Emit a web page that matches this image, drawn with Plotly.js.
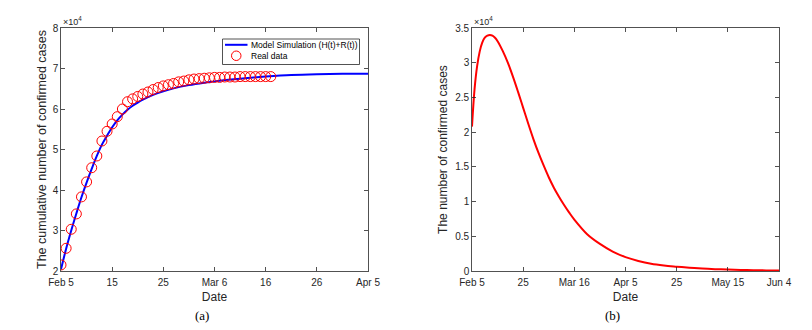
<!DOCTYPE html>
<html>
<head>
<meta charset="utf-8">
<script src="https://cdn.plot.ly/plotly-3.0.1.min.js"></script>
<style>
  html, body { margin: 0; padding: 0; background: #fff; }
  #chart { width: 812px; height: 330px; }
</style>
</head>
<body>
<div id="chart"></div>
<script>
// ---------- Data (values in units of 10^4 cases) ----------
// (a) days since Feb 5, 2020
const realDays = [0,1,2,3,4,5,6,7,8,9,10,11,12,13,14,15,16,17,18,19,20,
                  21,22,23,24,25,26,27,28,29,30,31,32,33,34,35,36,37,38,39,40,41];
const realCases = [2.15,2.56,3.03,3.41,3.83,4.20,4.55,4.84,5.21,5.45,5.63,5.81,6.00,6.18,6.25,6.31,6.37,6.42,6.48,6.53,6.57,
                   6.60,6.63,6.67,6.69,6.72,6.74,6.75,6.76,6.77,6.78,6.78,6.79,6.79,6.79,6.80,6.80,6.80,6.80,6.80,6.80,6.80];
const modelDays = [0,1,2,3,4,5,6,7,8,9,10,11,12,13,14,15,16,18,20,22,25,28,31,35,40,45,50,55,60];
const modelCases = [2.04,2.55,3.00,3.42,3.82,4.18,4.52,4.84,5.12,5.34,5.55,5.72,5.86,5.98,6.08,6.16,6.23,6.35,6.44,6.51,
                    6.59,6.65,6.70,6.75,6.80,6.84,6.86,6.87,6.87];
const tickDaysA = [0,10,20,30,40,50,60];
const tickLabelsA = ['Feb 5','15','25','Mar 6','16','26','Apr 5'];
const legendLabels = ['Model Simulation (H(t)+R(t))', 'Real data'];

// (b) days since Feb 5, 2020
const infDays = [0,1,2,3,4,5,6,7,8,9,10,12,14,16,18,20,22,24,26,28,30,32,34,36,38,40,
                 45,50,55,60,65,70,75,80,85,90,95,100,105,110,115,120];
const infCases = [2.08,2.62,2.95,3.16,3.29,3.36,3.39,3.40,3.39,3.36,3.31,3.17,3.00,2.80,2.58,2.35,2.12,1.90,1.70,1.52,
                  1.35,1.20,1.07,0.95,0.84,0.74,
                  0.53,0.39,0.28,0.20,0.145,0.105,0.08,0.063,0.048,0.036,0.027,0.020,0.015,0.011,0.009,0.007];
const tickDaysB = [0,20,40,60,80,100,120];
const tickLabelsB = ['Feb 5','25','Mar 16','Apr 5','25','May 15','Jun 4'];

// ---------- Styling ----------
const SANS = 'Liberation Sans, Arial, sans-serif';
const SERIF = 'Liberation Serif, Times New Roman, serif';
const AXC = '#262626';
const W = 812, H = 330;
const px = v => v / W;          // pixel -> paper x
const py = v => 1 - v / H;      // pixel -> paper y

function axisBase() {
  return {
    showline: true, linecolor: AXC, linewidth: 0.8, mirror: 'ticks',
    ticks: 'inside', ticklen: 4, tickcolor: AXC, tickwidth: 0.8,
    showgrid: false, zeroline: false,
    tickfont: {family: SANS, size: 10, color: AXC}
  };
}

const traces = [
  {x: modelDays, y: modelCases, type: 'scatter', mode: 'lines',
   line: {color: '#0000ff', width: 2, shape: 'spline', smoothing: 1},
   name: legendLabels[0], showlegend: false, xaxis: 'x', yaxis: 'y'},
  {x: realDays, y: realCases, type: 'scatter', mode: 'markers',
   marker: {symbol: 'circle-open', size: 10, color: '#ff0000', line: {width: 1, color: '#ff0000'}},
   name: legendLabels[1], showlegend: false, xaxis: 'x', yaxis: 'y'},
  {x: infDays, y: infCases, type: 'scatter', mode: 'lines',
   line: {color: '#ff0000', width: 2, shape: 'spline', smoothing: 1},
   showlegend: false, name: 'Confirmed', xaxis: 'x2', yaxis: 'y2'}
];

const xa = Object.assign(axisBase(), {
  domain: [px(61), px(368)], range: [0, 60], tickvals: tickDaysA, ticktext: tickLabelsA,
  anchor: 'y', ticklabelstandoff: 2,
  title: {text: 'Date', font: {family: SANS, size: 12, color: AXC}, standoff: 5}
});
const ya = Object.assign(axisBase(), {
  domain: [py(271), py(28)], range: [2, 8], dtick: 1, anchor: 'x',
  title: {text: 'The cumulative number of confirmed cases', font: {family: SANS, size: 12.5, color: AXC}, standoff: 3}
});
const xb = Object.assign(axisBase(), {
  domain: [px(472), px(779)], range: [0, 120], tickvals: tickDaysB, ticktext: tickLabelsB,
  anchor: 'y2', ticklabelstandoff: 2,
  title: {text: 'Date', font: {family: SANS, size: 12, color: AXC}, standoff: 5}
});
const yb = Object.assign(axisBase(), {
  domain: [py(271), py(28)], range: [0, 3.5], dtick: 0.5, anchor: 'x2',
  title: {text: 'The number of confirmed cases', font: {family: SANS, size: 12, color: AXC}, standoff: 4}
});

// Manual MATLAB-style legend box for panel (a)
const legendShapes = [
  {type: 'rect', xref: 'paper', yref: 'paper', x0: px(222.5), x1: px(359.5), y0: py(64.5), y1: py(39),
   line: {color: AXC, width: 0.8}, fillcolor: '#ffffff', layer: 'above'},
  {type: 'line', xref: 'paper', yref: 'paper', x0: px(225), x1: px(247.5), y0: py(44.8), y1: py(44.8),
   line: {color: '#0000ff', width: 2}, layer: 'above'},
  {type: 'circle', xref: 'paper', yref: 'paper', x0: px(231.5), x1: px(241), y0: py(60.5), y1: py(51),
   line: {color: '#ff0000', width: 1}, fillcolor: 'rgba(0,0,0,0)', layer: 'above'}
];

const layout = {
  width: W, height: H,
  margin: {l: 0, r: 0, t: 0, b: 0},
  paper_bgcolor: '#fff', plot_bgcolor: '#fff',
  font: {family: SANS, color: AXC},
  xaxis: xa, yaxis: ya, xaxis2: xb, yaxis2: yb,
  showlegend: false,
  shapes: legendShapes,
  annotations: [
    {text: legendLabels[0], x: px(249), y: py(44.8), xref: 'paper', yref: 'paper',
     xanchor: 'left', yanchor: 'middle', showarrow: false, font: {family: SANS, size: 8.5, color: '#000'}},
    {text: legendLabels[1], x: px(249), y: py(55.8), xref: 'paper', yref: 'paper',
     xanchor: 'left', yanchor: 'middle', showarrow: false, font: {family: SANS, size: 8.5, color: '#000'}},
    {text: '×10<sup>4</sup>', x: px(61), y: py(21), xref: 'paper', yref: 'paper',
     xanchor: 'left', yanchor: 'middle', showarrow: false, font: {family: SANS, size: 9, color: AXC}},
    {text: '×10<sup>4</sup>', x: px(472), y: py(21), xref: 'paper', yref: 'paper',
     xanchor: 'left', yanchor: 'middle', showarrow: false, font: {family: SANS, size: 9, color: AXC}},
    {text: '(a)', x: px(202), y: py(315), xref: 'paper', yref: 'paper',
     xanchor: 'center', yanchor: 'middle', showarrow: false, font: {family: SERIF, size: 13, color: '#000'}},
    {text: '(b)', x: px(612), y: py(315), xref: 'paper', yref: 'paper',
     xanchor: 'center', yanchor: 'middle', showarrow: false, font: {family: SERIF, size: 13, color: '#000'}}
  ]
};

Plotly.newPlot('chart', traces, layout, {displayModeBar: false, staticPlot: true});
</script>
</body>
</html>
